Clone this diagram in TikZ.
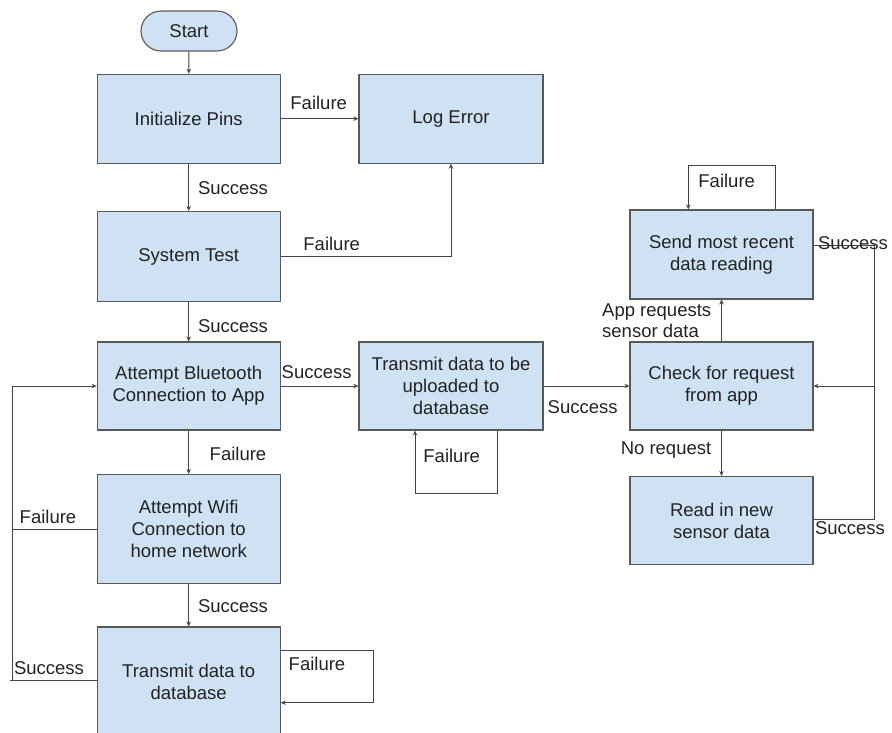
\documentclass[tikz,border=0pt]{standalone}
\usepackage{fontspec}
\setmainfont{Liberation Sans}
\usetikzlibrary{arrows.meta}
\definecolor{boxfill}{HTML}{CFE2F3}
\definecolor{boxline}{HTML}{595959}
\definecolor{conn}{HTML}{444444}
\definecolor{txt}{HTML}{222222}
\begin{document}
\begin{tikzpicture}[x=1pt,y=-1pt,
  box/.style={draw=boxline,fill=boxfill,line width=1.1pt,minimum width=183pt,align=center,inner sep=0pt,text=txt,font=\fontsize{18.5}{22}\selectfont},
  lbl/.style={text=txt,font=\fontsize{18.5}{21}\selectfont,inner sep=0pt,align=left},
  arr/.style={draw=conn,line width=0.9pt,-{Stealth[length=5pt,width=4.5pt]}},
  ln/.style={draw=conn,line width=0.9pt}]
\useasboundingbox (0,0) rectangle (892,732);
\begin{scope}
\clip (0,0) rectangle (892,732);
% nodes
\node[box,rounded corners=20pt,minimum width=96pt,minimum height=40pt] (start) at (189,31) {Start};
\node[box,minimum height=89pt] (init) at (188.7,118.7) {Initialize Pins};
\node[box,minimum width=184pt,minimum height=89pt] (err) at (451,118.7) {Log Error};
\node[box,minimum height=90pt] (sys) at (188.7,256.5) {System Test};
\node[box,minimum height=88pt] (bt) at (188.7,386) {Attempt Bluetooth\\Connection to App};
\node[box,minimum height=109pt] (wifi) at (188.7,529) {Attempt Wifi\\Connection to\\home network};
\node[box,minimum height=110pt] (tx) at (188.7,682) {Transmit data to\\database};
\node[box,minimum width=184pt,minimum height=88pt] (up) at (451,386) {Transmit data to be\\uploaded to\\database};
\node[box,minimum height=89pt] (send) at (721.5,254.5) {Send most recent\\data reading};
\node[box,minimum height=88pt] (check) at (721.5,386) {Check for request\\from app};
\node[box,minimum height=88pt] (read) at (721.5,520.5) {Read in new\\sensor data};
% helper coordinates
\coordinate (L1) at (12,680);
\coordinate (R1) at (874.3,245);
\coordinate (R2) at (874.3,519);
% left column
\draw[arr] (start) -- (init);
\draw[arr] (init) -- (err);
\draw[arr] (init) -- (sys);
\draw[arr] (sys.east) -| (err.south);
\draw[arr] (sys) -- (bt);
\draw[arr] (bt) -- (wifi);
\draw[arr] (wifi) -- (tx);
\draw[ln] (wifi.west) -- (wifi.west -| L1);
\draw[arr] ([yshift=2pt]tx.west) -- ([xshift=-2pt]L1) -- (L1) -- (L1 |- bt.west) -- (bt.west);
\draw[arr] ([yshift=32pt]tx.east) -- ++(93,0) |- ([yshift=-20.7pt]tx.east);
% middle
\draw[arr] (bt) -- (up);
\draw[arr] (up) -- (check);
\draw[arr] ([xshift=46.7pt]up.south) -- ++(0,62.7) -| ([xshift=-36pt]up.south);
% right column
\draw[arr] (check) -- (send);
\draw[arr] (check) -- (read);
\draw[arr] ([xshift=53.5pt]send.north) -- ++(0,-44) -| ([xshift=-33.2pt]send.north);
\draw[ln] (send.east |- R1) -- (R1) -- (R2) -- (read.east |- R2);
\draw[arr] (R1 |- check.east) -- (check.east);
% labels
\node[lbl] (l1) at (318.7,103) {Failure};
\node[lbl] (l2) at (233,188) {Success};
\node[lbl] (l3) at (331.7,244) {Failure};
\node[lbl] (l4) at (233,326) {Success};
\node[lbl] (l5) at (238,454.3) {Failure};
\node[lbl] (l6) at (233,606) {Success};
\node[lbl] (l7) at (48,516.7) {Failure};
\node[lbl] (l8) at (49,667.7) {Success};
\node[lbl] (l9) at (317,664) {Failure};
\node[lbl] (l10) at (316.7,371.7) {Success};
\node[lbl] (l11) at (582.7,406.7) {Success};
\node[lbl] (l12) at (451.7,456) {Failure};
\node[lbl] (l13) at (656.7,321) {App requests\\sensor data};
\node[lbl] (l14) at (666,450) {No request};
\node[lbl] (l15) at (726.7,180.7) {Failure};
\node[lbl] (l16) at (853,243) {Success};
\node[lbl] (l17) at (850,528) {Success};
\end{scope}
\end{tikzpicture}
\end{document}
